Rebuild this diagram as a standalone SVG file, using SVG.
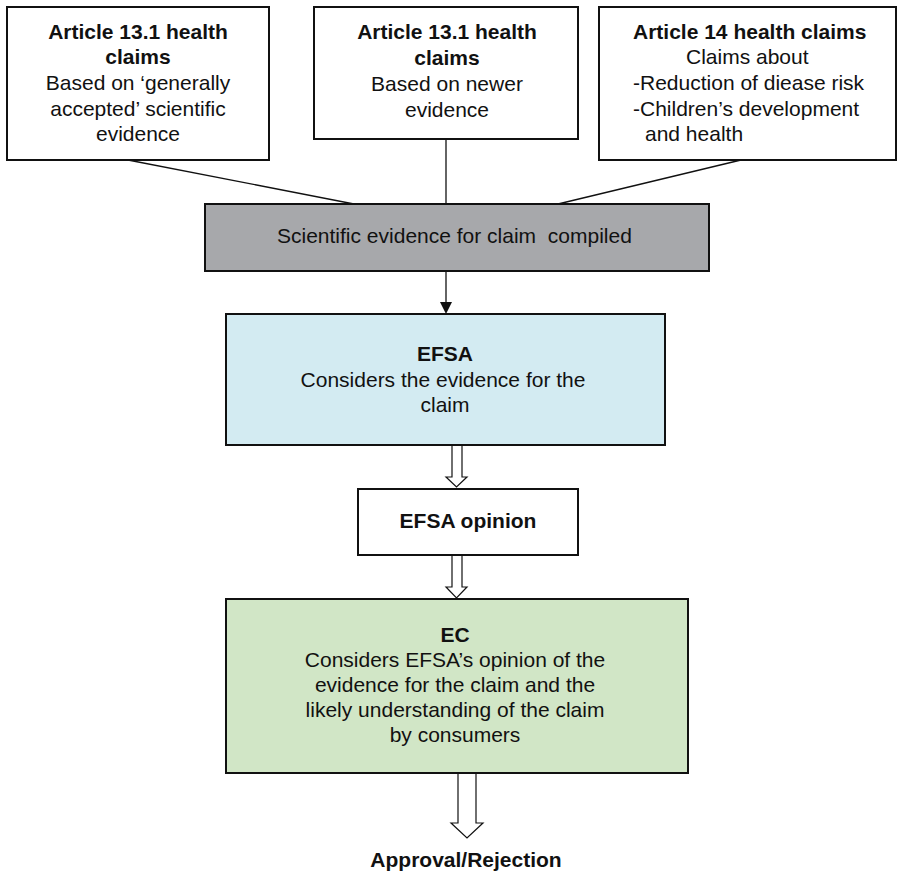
<svg xmlns="http://www.w3.org/2000/svg" width="898" height="872" viewBox="0 0 898 872">
<style>
text{font-family:"Liberation Sans",Arial,sans-serif;font-size:21px;fill:#111}
.b{font-weight:bold}
.c{text-anchor:middle}
.box{stroke:#111;stroke-width:2}
.ln{stroke:#111;stroke-width:1.3;fill:none}
.ha{fill:#fff;stroke:#111;stroke-width:1.2;stroke-linejoin:miter}
</style>
<rect width="898" height="872" fill="#fff"/>
<g id="connectors">
<line class="ln" x1="128" y1="160" x2="354" y2="204"/>
<line class="ln" x1="446" y1="139" x2="446" y2="204"/>
<line class="ln" x1="741" y1="160" x2="558" y2="204"/>
<line class="ln" x1="446" y1="271" x2="446" y2="304"/>
<polygon points="440,302 452,302 446,314" fill="#111"/>
<polygon class="ha" points="452,445 462,445 462,477 467,477 456.5,487 446,477 452,477"/>
<polygon class="ha" points="452,555 462,555 462,587 467,587 456.5,598 446,587 452,587"/>
<polygon class="ha" points="458,773 476,773 476,823 483,823 467,838 451,823 458,823"/>
</g>
<g id="art131a">
<rect class="box" x="7" y="7" width="262" height="153" fill="#fff"/>
<text class="c b" x="138" y="39">Article 13.1 health</text>
<text class="c b" x="138" y="64">claims</text>
<text class="c" x="138" y="90">Based on ‘generally</text>
<text class="c" x="138" y="116">accepted’ scientific</text>
<text class="c" x="138" y="141">evidence</text>
</g>
<g id="art131b">
<rect class="box" x="314" y="7" width="264" height="132" fill="#fff"/>
<text class="c b" x="447" y="39">Article 13.1 health</text>
<text class="c b" x="447" y="65">claims</text>
<text class="c" x="447" y="91">Based on newer</text>
<text class="c" x="447" y="117">evidence</text>
</g>
<g id="art14">
<rect class="box" x="599" y="7" width="297" height="153" fill="#fff"/>
<text class="b" x="633" y="39">Article 14 health claims</text>
<text x="686" y="64">Claims about</text>
<text x="633" y="90">-Reduction of diease risk</text>
<text x="633" y="116">-Children’s development</text>
<text x="645" y="141">and health</text>
</g>
<g id="compiled">
<rect class="box" x="205" y="204" width="504" height="67" fill="#a7a8ab"/>
<text x="277" y="243" xml:space="preserve">Scientific evidence for claim  compiled</text>
</g>
<g id="efsa">
<rect class="box" x="226" y="314" width="439" height="131" fill="#d3ebf2"/>
<text class="c b" x="445" y="361">EFSA</text>
<text class="c" x="443" y="387">Considers the evidence for the</text>
<text class="c" x="445" y="412">claim</text>
</g>
<g id="opinion">
<rect class="box" x="358" y="489" width="220" height="66" fill="#fff"/>
<text class="c b" x="468" y="528">EFSA opinion</text>
</g>
<g id="ec">
<rect class="box" x="226" y="599" width="462" height="174" fill="#d1e6c6"/>
<text class="c b" x="455" y="642">EC</text>
<text class="c" x="455" y="667">Considers EFSA’s opinion of the</text>
<text class="c" x="455" y="692">evidence for the claim and the</text>
<text class="c" x="455" y="717">likely understanding of the claim</text>
<text class="c" x="455" y="742">by consumers</text>
</g>
<g id="result">
<text class="c b" x="466" y="867">Approval/Rejection</text>
</g>
</svg>
